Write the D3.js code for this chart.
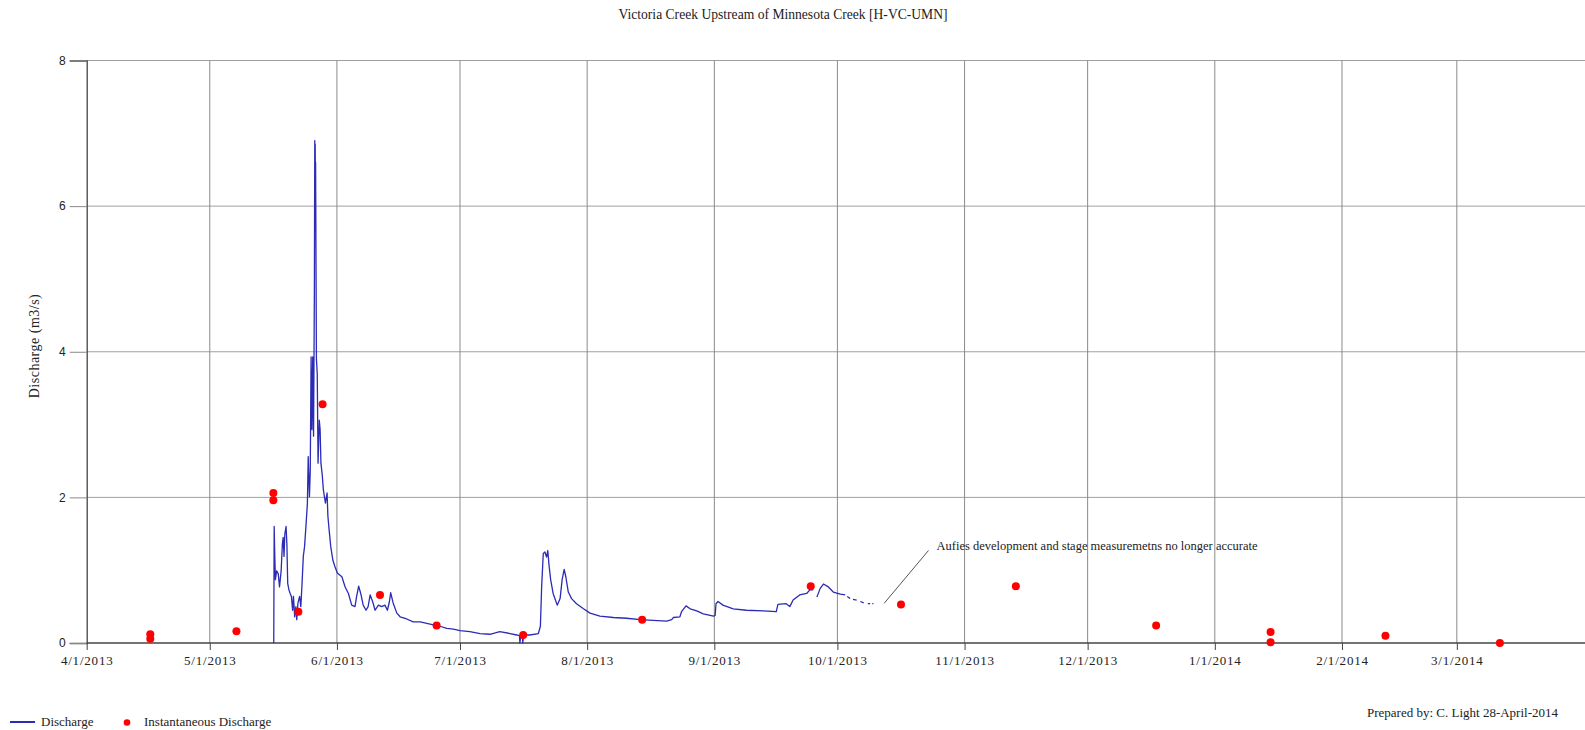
<!DOCTYPE html>
<html>
<head>
<meta charset="utf-8">
<script src="https://cdn.jsdelivr.net/npm/d3@7/dist/d3.min.js"></script>
<style>
  html, body { margin: 0; padding: 0; background: #fff; }
  svg { display: block; }
  text { font-family: "Liberation Serif", "DejaVu Serif", serif; fill: #222; }
</style>
</head>
<body>
<svg id="chart" width="1585" height="730"></svg>
<script>
// Station record starts 1 April 2013; x values are days since that date.
const recordStart = new Date(2013, 3, 1);
const recordEnd = new Date(2014, 3, 1);

// Continuous discharge record (m3/s); null marks gaps in the logger record.
const dischargeDay = [
  45.6, 45.7, 45.8, 46.0, 46.3, 46.7, 47.0, 47.4, 47.7, 47.9, 48.1, 48.3, 48.6, 48.8,
  49.0, 49.3, 49.6, 49.9, 50.2, 50.4, 50.7, 51.0, 51.2, 51.5, 51.9, 52.2, 52.5, 52.8,
  53.1, 53.5, 53.8, 54.0, 54.3, 54.5, 54.7, 54.9, 55.1, 55.3, 55.5, 55.6, 55.65, 55.7,
  55.75, 55.8, 55.9,
  56.0, 56.2, 56.4, 56.7, 56.9, 57.1, 57.4, 57.7, 58.2, 58.6, 58.8, 59.1, 59.5, 60.0,
  60.5, 61.1, 62.2, 63.0, 63.8, 64.6, 65.4, 65.8, 66.3, 66.8, 67.4, 68.1, 68.6, 69.1,
  69.7, 70.3, 71.1, 71.9, 72.7, 73.3, 73.8, 74.1, 74.7, 75.6, 76.4, 78.0, 79.6, 81.3,
  82.9, 84.5, 86.1, 87.8, 89.4, 91.0, 93.4, 95.9, 98.3, 100.7, 103.2, 104.8, 105.5,
  105.6, 105.8, 106.2, 106.3, 106.5, 108.0, 110.1, 110.6, 110.9, 111.3, 111.7, 112.1,
  112.4, 112.7, 113.1, 113.7, 114.7, 115.4, 115.9, 116.4, 116.8, 117.4, 118.2, 119.4,
  121.1, 122.7, 125.1, 128.4, 131.6, 134.9, 138.1, 141.4, 142.6, 143.0, 144.6, 145.0,
  146.1, 147.1, 148.7, 150.3, 152.8, 153.2, 153.4, 153.9, 155.1, 157.6, 160.8, 164.9,
  168.1, 168.5, 170.5, 171.4, 172.2, 173.8, 175.5, 176.3, 177.1, 177.5, 178.0, 178.8,
  179.6, 180.8, 182.0, 183.7, 184.9, 185.1, 185.4, 186.1, 186.4, 186.8, 187.7, 188.1,
  188.6, 189.4, 189.9, 190.4, 191.0, 191.2, 191.5, 191.8
];
const dischargeValue = [
  0.00, 1.60, 1.32, 0.87, 0.99, 0.95, 0.77, 0.99, 1.36, 1.45, 1.19, 1.50, 1.60, 1.36,
  0.82, 0.73, 0.68, 0.64, 0.45, 0.64, 0.36, 0.50, 0.32, 0.55, 0.64, 0.50, 0.82, 1.19,
  1.32, 1.65, 1.92, 2.56, 2.01, 2.38, 3.93, 2.93, 3.93, 2.84, 4.80, 6.90, 6.20, 6.85,
  6.30, 6.60, 5.20,
  3.90, 3.70, 2.47, 3.06, 2.93, 2.47, 2.32, 2.10, 1.92, 2.06, 1.74, 1.55, 1.32, 1.14,
  1.05, 0.96, 0.91, 0.77, 0.68, 0.52, 0.50, 0.64, 0.78, 0.68, 0.52, 0.45, 0.50, 0.66,
  0.57, 0.45, 0.52, 0.50, 0.52, 0.45, 0.57, 0.69, 0.55, 0.41, 0.36, 0.33, 0.29, 0.29,
  0.27, 0.25, 0.23, 0.20, 0.19, 0.17, 0.155, 0.13, 0.12, 0.155, 0.13, 0.11, 0.10,
  0.00, 0.10, 0.10, 0.00, 0.11, 0.11, 0.13, 0.23, 0.77, 1.23, 1.25, 1.18,
  1.27, 1.07, 0.87, 0.68, 0.52, 0.61, 0.87, 1.01, 0.91, 0.70, 0.61, 0.54,
  0.47, 0.41, 0.37, 0.35, 0.34, 0.32, 0.31, 0.30, 0.32, 0.35, 0.36, 0.43,
  0.51, 0.47, 0.44, 0.40, 0.37, 0.38, 0.54, 0.57, 0.52, 0.47, 0.45, 0.44,
  0.43, 0.53, 0.54, 0.50, 0.59, 0.66, 0.68, 0.73, 0.73, null, 0.63, 0.75,
  0.81, 0.77, 0.70, 0.67, 0.66, null, 0.64, 0.61, null, 0.60, 0.59, null,
  0.57, 0.55, null, 0.54, 0.54, null, 0.54, 0.54
];

// Spot (instantaneous) discharge measurements.
const measuredDay = [
  15.5, 15.5, 36.5, 45.5, 45.5, 51.6, 57.5, 71.5, 85.3, 106.4, 135.4, 176.5,
  198.5, 226.5, 260.7, 288.6, 288.6, 316.6, 344.5
];
const measuredValue = [
  0.12, 0.06, 0.16, 2.06, 1.96, 0.43, 3.28, 0.66, 0.24, 0.11, 0.32, 0.78,
  0.53, 0.78, 0.24, 0.15, 0.01, 0.10, 0.00
];

const yTicks = [0, 2, 4, 6, 8];
const titleText = "Victoria Creek Upstream of Minnesota Creek [H-VC-UMN]";
const yLabel = "Discharge (m3/s)";
const noteText = "Aufies development and stage measuremetns no longer accurate";
// Note anchor: [day, value] of the leader start (near the text) and end (at the record's end).
const noteLeader = [[205.2, 1.27], [194.4, 0.545]];
const footerText = "Prepared by: C. Light 28-April-2014";
const legendLabels = ["Discharge", "Instantaneous Discharge"];

const toDate = d => new Date(recordStart.getTime() + d * 864e5);

const svg = d3.select("#chart");
const plot = { left: 86.7, right: 1584, top: 60.5, bottom: 643 };

const x = d3.scaleTime().domain([recordStart, recordEnd]).range([plot.left, plot.right]);
const y = d3.scaleLinear().domain([0, 8]).range([plot.bottom, plot.top]);

const monthTicks = d3.timeMonth.range(recordStart, recordEnd);
const fmt = d3.timeFormat("%-m/%-d/%Y");

// Horizontal grid
svg.append("g")
  .selectAll("line")
  .data(yTicks.filter(v => v > 0))
  .join("line")
  .attr("x1", plot.left).attr("x2", 1585)
  .attr("y1", d => y(d)).attr("y2", d => y(d))
  .attr("stroke", "#a0a0a0").attr("stroke-width", 1);

// Vertical grid at each month
svg.append("g")
  .selectAll("line")
  .data(monthTicks.slice(1))
  .join("line")
  .attr("x1", d => x(d)).attr("x2", d => x(d))
  .attr("y1", plot.top).attr("y2", plot.bottom)
  .attr("stroke", "#8a8a8a").attr("stroke-width", 1);

// Y axis
const yAxis = svg.append("g")
  .attr("transform", `translate(${plot.left},0)`)
  .call(d3.axisLeft(y).tickValues(yTicks).tickSize(17).tickPadding(4).tickFormat(d3.format("d")));
yAxis.select(".domain").attr("stroke", "#444").attr("stroke-width", 1.3);
yAxis.selectAll(".tick line").attr("stroke", "#888");
yAxis.selectAll(".tick text")
  .style("font-family", "'Liberation Sans', Arial, sans-serif")
  .style("font-size", "12px").attr("fill", "#333");

// X axis
const xAxis = svg.append("g")
  .attr("transform", `translate(0,${plot.bottom})`)
  .call(d3.axisBottom(x).tickValues(monthTicks).tickSize(7).tickPadding(6).tickFormat(fmt));
xAxis.select(".domain").attr("d", `M${plot.left},0H1585`).attr("stroke", "#444").attr("stroke-width", 1.5);
xAxis.selectAll(".tick line").attr("stroke", "#444");
xAxis.selectAll(".tick text")
  .style("font-size", "13px").style("letter-spacing", "0.8px").attr("fill", "#333");

// Discharge line
const line = d3.line()
  .defined(d => d[1] !== null)
  .x(d => x(toDate(d[0])))
  .y(d => y(d[1]));
svg.append("path")
  .datum(dischargeDay.map((d, i) => [d, dischargeValue[i]]))
  .attr("d", line)
  .attr("fill", "none")
  .attr("stroke", "#2b2bb5")
  .attr("stroke-width", 1.3)
  .attr("stroke-linejoin", "round");

// Instantaneous measurements
svg.append("g")
  .selectAll("circle")
  .data(measuredDay.map((d, i) => [d, measuredValue[i]]))
  .join("circle")
  .attr("cx", d => x(toDate(d[0])))
  .attr("cy", d => y(d[1]))
  .attr("r", 4)
  .attr("fill", "#ff0000");

// Note with leader line
svg.append("line")
  .attr("x1", x(toDate(noteLeader[0][0]))).attr("y1", y(noteLeader[0][1]))
  .attr("x2", x(toDate(noteLeader[1][0]))).attr("y2", y(noteLeader[1][1]))
  .attr("stroke", "#555").attr("stroke-width", 1);
svg.append("text")
  .attr("x", x(toDate(noteLeader[0][0])) + 8)
  .attr("y", y(noteLeader[0][1]) - 1)
  .style("font-size", "12.5px")
  .text(noteText);

// Title
svg.append("text")
  .attr("x", 783).attr("y", 19)
  .attr("text-anchor", "middle")
  .style("font-size", "13.6px")
  .text(titleText);

// Y label
svg.append("text")
  .attr("transform", "translate(39,346) rotate(-90)")
  .attr("text-anchor", "middle")
  .style("font-size", "14px")
  .style("letter-spacing", "0.5px")
  .text(yLabel);

// Legend
const legend = svg.append("g");
legend.append("line")
  .attr("x1", 10).attr("x2", 35).attr("y1", 722).attr("y2", 722)
  .attr("stroke", "#2b2bb5").attr("stroke-width", 2);
legend.append("text").attr("x", 41).attr("y", 726).style("font-size", "13px").text(legendLabels[0]);
legend.append("circle").attr("cx", 127).attr("cy", 722.5).attr("r", 3.3).attr("fill", "#ff0000");
legend.append("text").attr("x", 144).attr("y", 726).style("font-size", "13px").text(legendLabels[1]);

// Footer
svg.append("text")
  .attr("x", 1558).attr("y", 717)
  .attr("text-anchor", "end")
  .style("font-size", "13px")
  .text(footerText);
</script>
</body>
</html>
